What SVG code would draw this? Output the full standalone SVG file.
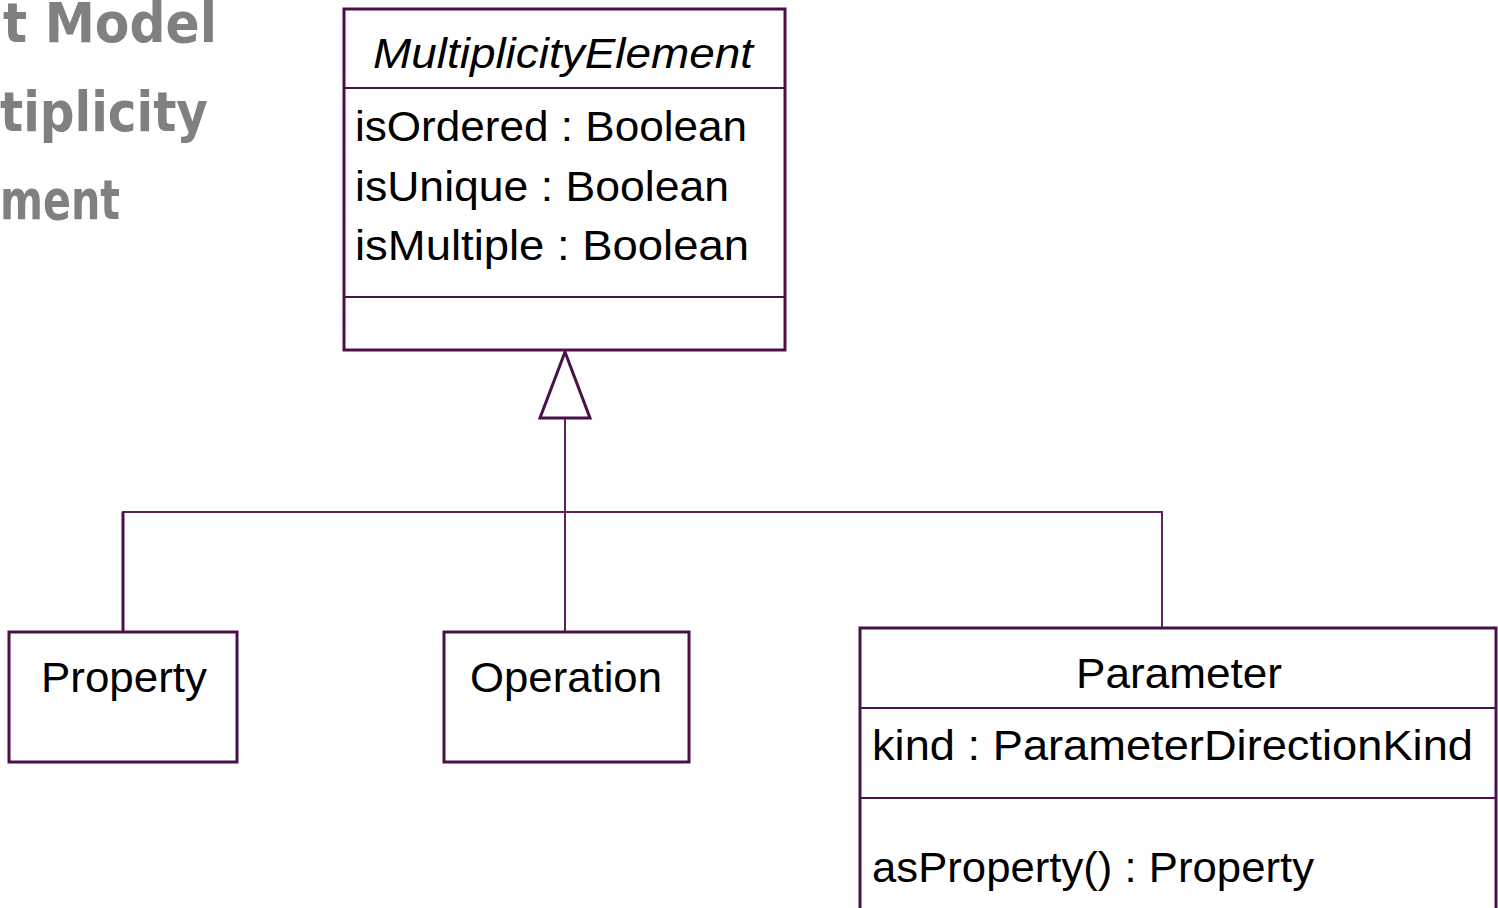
<svg xmlns="http://www.w3.org/2000/svg" width="1498" height="908" viewBox="0 0 1498 908">
<style>
.box{fill:#fff;stroke:#4a1048;stroke-width:3}
.div{stroke:#4a1048;stroke-width:2}
.conn{fill:none;stroke:#5a2458;stroke-width:2}
.t{font-family:"Liberation Sans",Arial,sans-serif;font-size:42px;fill:#000}
.ttl{font-family:"Liberation Sans Narrow","DejaVu Sans Condensed",sans-serif;font-weight:bold;font-size:55px;fill:#808080}
</style>
<rect width="1498" height="908" fill="#fff"/>
<g id="title">
<text class="ttl" x="3" y="42" textLength="214" lengthAdjust="spacingAndGlyphs">t Model</text>
<text class="ttl" x="0" y="131" textLength="208" lengthAdjust="spacingAndGlyphs">tiplicity</text>
<text class="ttl" x="0" y="219" textLength="120" lengthAdjust="spacingAndGlyphs">ment</text>
</g>
<g id="connectors">
<polyline class="conn" points="123,632 123,512 1162,512 1162,628"/>
<line x1="123" y1="512" x2="123" y2="632" style="stroke:#4a1048;stroke-width:3"/>
<line class="conn" x1="565" y1="418" x2="565" y2="632"/>
<polygon points="565,352 540,418 590,418" fill="#fff" stroke="#4a1048" stroke-width="3"/>
</g>
<g id="MultiplicityElement">
<rect class="box" x="344" y="9" width="441" height="341"/>
<line class="div" x1="344" y1="88" x2="785" y2="88"/>
<line class="div" x1="344" y1="297" x2="785" y2="297"/>
<text class="t" x="373" y="68" font-style="italic" textLength="380" lengthAdjust="spacingAndGlyphs">MultiplicityElement</text>
<text class="t" x="355" y="141" textLength="392" lengthAdjust="spacingAndGlyphs">isOrdered : Boolean</text>
<text class="t" x="355" y="201" textLength="374" lengthAdjust="spacingAndGlyphs">isUnique : Boolean</text>
<text class="t" x="355" y="260" textLength="394" lengthAdjust="spacingAndGlyphs">isMultiple : Boolean</text>
</g>
<g id="Property">
<rect class="box" x="9" y="632" width="228" height="130"/>
<text class="t" x="41" y="692" textLength="166" lengthAdjust="spacingAndGlyphs">Property</text>
</g>
<g id="Operation">
<rect class="box" x="444" y="632" width="245" height="130"/>
<text class="t" x="470" y="692" textLength="192" lengthAdjust="spacingAndGlyphs">Operation</text>
</g>
<g id="Parameter">
<rect class="box" x="860" y="628" width="636" height="290"/>
<line class="div" x1="860" y1="708" x2="1496" y2="708"/>
<line class="div" x1="860" y1="798" x2="1496" y2="798"/>
<text class="t" x="1076" y="688" textLength="206" lengthAdjust="spacingAndGlyphs">Parameter</text>
<text class="t" x="872" y="760" textLength="601" lengthAdjust="spacingAndGlyphs">kind : ParameterDirectionKind</text>
<text class="t" x="872" y="882" textLength="442" lengthAdjust="spacingAndGlyphs">asProperty() : Property</text>
</g>
</svg>
